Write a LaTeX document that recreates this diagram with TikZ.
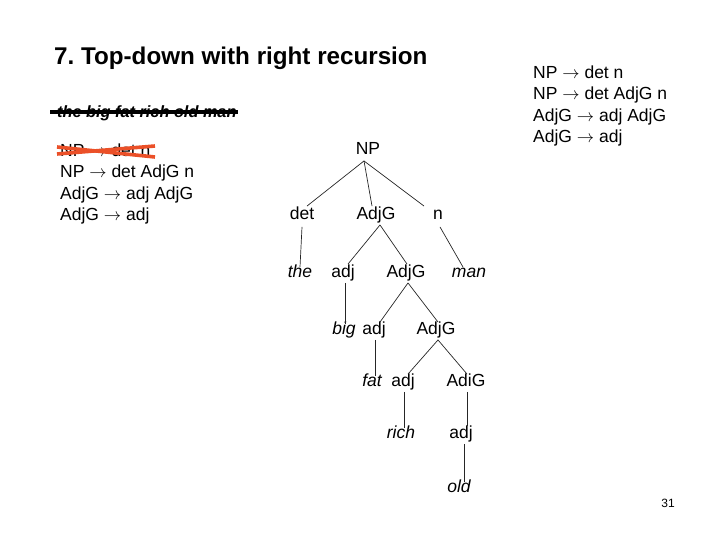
\documentclass[tikz,border=0pt]{standalone}
\usepackage{fontspec}
\setmainfont{Liberation Sans}
\frenchspacing
\begin{document}
\begin{tikzpicture}[x=1pt,y=-1pt,
  lab/.style={inner sep=1pt, text height=12pt, text depth=3.5pt, font=\fontsize{17.5}{21}\selectfont},
  word/.style={lab, font=\fontsize{17.5}{21}\selectfont\itshape},
  rule/.style={anchor=west, inner sep=0pt, text height=12pt, text depth=3.5pt, font=\fontsize{17.5}{21}\selectfont},
  edge/.style={draw=black!85, line width=0.7pt},
  strike/.style={draw={rgb,255:red,235;green,80;blue,40}, line width=3.6pt}]
\useasboundingbox (0,0) rectangle (720,540);
% title
\node[anchor=west, inner sep=0pt, font=\fontsize{24.2}{28}\selectfont\bfseries] (title) at (54,58) {7. Top-down with right recursion};
% right rules
\node[rule] (r1) at (533,74) {NP $\rightarrow$ det n};
\node[rule] (r2) at (533,95) {NP $\rightarrow$ det AdjG n};
\node[rule] (r3) at (533,117) {AdjG $\rightarrow$ adj AdjG};
\node[rule] (r4) at (533,138) {AdjG $\rightarrow$ adj};
% left rules
\node[rule] (l1) at (60,152) {NP $\rightarrow$ det n};
\node[rule] (l2) at (60,173) {NP $\rightarrow$ det AdjG n};
\node[rule] (l3) at (60,195) {AdjG $\rightarrow$ adj AdjG};
\node[rule] (l4) at (60,216) {AdjG $\rightarrow$ adj};
% sentence struck out
\node[anchor=west, inner sep=0pt, font=\fontsize{16.3}{20}\selectfont\itshape\bfseries] (sent) at (57,113) {the big fat rich old man};
\coordinate (s1) at (50,112);
\coordinate (s2) at (238,112);
\draw[line width=3.2pt] (s1) -- (s2);
% red cross
\coordinate (x1) at (57,147);
\coordinate (x2) at (155,157);
\coordinate (x3) at (57,154);
\coordinate (x4) at (155,146);
\draw[strike] (x1) -- (x2);
\draw[strike] (x3) -- (x4);
% tree
\node[lab] (np) at (368,150) {NP};
\node[lab] (det) at (302,215) {det};
\node[lab] (ag1) at (376,215) {AdjG};
\node[lab] (n) at (438,215) {n};
\node[word] (the) at (300,273) {the};
\node[lab] (adj1) at (343,273) {adj};
\node[lab] (ag2) at (406,273) {AdjG};
\node[word] (man) at (469,273) {man};
\node[word] (big) at (344,330) {big};
\node[lab] (adj2) at (374,330) {adj};
\node[lab] (ag3) at (436,330) {AdjG};
\node[word] (fat) at (372,382) {fat};
\node[lab] (adj3) at (403,382) {adj};
\node[lab] (ag4) at (466,382) {AdiG};
\node[word] (rich) at (401,434) {rich};
\node[lab] (adj4) at (461,434) {adj};
\node[word] (old) at (459,488) {old};
% edges
\draw[edge] ([xshift=-4pt,yshift=-2pt]np.south) -- ([xshift=5pt]det.north);
\draw[edge] ([xshift=-4pt,yshift=-2pt]np.south) -- ([xshift=-4pt]ag1.north);
\draw[edge] ([xshift=-4pt,yshift=-2pt]np.south) -- ([xshift=-14pt]n.north);
\draw[edge] ([yshift=-3pt]det.south) -- ([yshift=-3pt]the.north);
\draw[edge] ([xshift=4pt,yshift=-1pt]ag1.south) -- ([xshift=5pt]adj1.north);
\draw[edge] ([xshift=4pt,yshift=-1pt]ag1.south) -- ([xshift=1pt]ag2.north);
\draw[edge] ([xshift=2pt,yshift=-3pt]n.south) -- ([xshift=-6pt,yshift=-3pt]man.north);
\draw[edge] ([xshift=2pt,yshift=-1pt]adj1.south) -- ([xshift=1pt,yshift=-3pt]big.north);
\draw[edge] ([xshift=2pt,yshift=-1pt]ag2.south) -- ([xshift=6pt,yshift=-1pt]adj2.north);
\draw[edge] ([xshift=2pt,yshift=-1pt]ag2.south) -- ([xshift=2pt,yshift=-1pt]ag3.north);
\draw[edge] ([xshift=1pt,yshift=-1pt]adj2.south) -- ([xshift=3pt,yshift=-3pt]fat.north);
\draw[edge] ([xshift=2pt,yshift=-1pt]ag3.south) -- ([xshift=5pt,yshift=-1pt]adj3.north);
\draw[edge] ([xshift=2pt,yshift=-1pt]ag3.south) -- ([xshift=1pt,yshift=-1pt]ag4.north);
\draw[edge] ([xshift=1pt,yshift=-1pt]adj3.south) -- ([xshift=3pt,yshift=-3pt]rich.north);
\draw[edge] ([xshift=1pt,yshift=-1pt]ag4.south) -- ([xshift=6pt,yshift=-1pt]adj4.north);
\draw[edge] ([xshift=3pt,yshift=-1pt]adj4.south) -- ([xshift=5pt,yshift=-3pt]old.north);
% page number
\node[inner sep=0pt, font=\fontsize{12}{14}\selectfont] (pg) at (668,503) {31};
\end{tikzpicture}
\end{document}
